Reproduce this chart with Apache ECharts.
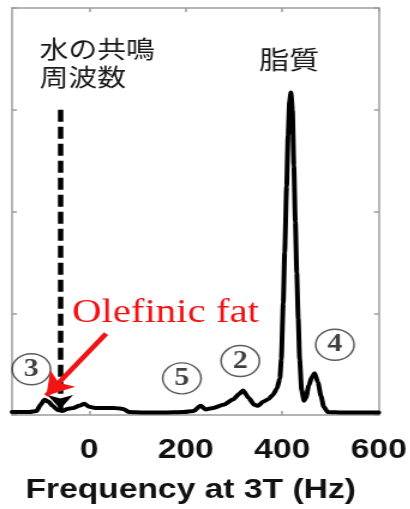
<!DOCTYPE html>
<html>
<head>
<meta charset="utf-8">
<script src="https://cdn.jsdelivr.net/npm/echarts@6/dist/echarts.min.js"></script>
<style>
  html, body { margin: 0; padding: 0; background: #fff; overflow: hidden; }
  #wrap { width: 410px; height: 509px; overflow: hidden; }
  /* the figure is laid out narrow and widened 1.2x, like the original print */
  #chart { width: 342px; height: 509px; transform: scaleX(1.2); transform-origin: 0 0; }
</style>
</head>
<body>
<div id="wrap"><div id="chart"></div></div>
<script>
// Spectrum at 3T: frequency offset (Hz) and signal amplitude (a.u.)
const freqHz = [-160, -144, -124, -109, -101, -93, -84, -76, -66, -56, -45, -33, -21, -10, 0, 12, 31, 51, 70, 82,
  113, 154, 196, 216, 231, 241, 257, 278, 299, 311, 319, 330, 342, 350, 360, 371, 381, 389, 395, 398,
  402, 405, 409, 412, 415, 418, 421, 424, 427, 430, 433, 436, 440, 445, 449, 455, 461, 467, 474, 480,
  486, 494, 525, 566, 600];
const signal = [0.03, 0.03, 0.03, 0.04, 0.10, 0.15, 0.13, 0.09, 0.05, 0.04, 0.06, 0.07, 0.09, 0.11, 0.08, 0.07, 0.07, 0.07, 0.06, 0.03,
  0.025, 0.025, 0.03, 0.04, 0.09, 0.055, 0.07, 0.10, 0.155, 0.21, 0.24, 0.17, 0.10, 0.09, 0.13, 0.155, 0.20, 0.26, 0.36, 0.55,
  1.10, 1.60, 2.25, 2.75, 3.08, 3.17, 3.00, 2.45, 1.90, 1.40, 0.95, 0.55, 0.25, 0.14, 0.17, 0.29, 0.37, 0.41, 0.32, 0.19,
  0.08, 0.03, 0.025, 0.025, 0.025];

// x axis ticks and labels
const tickHz = [0, 200, 400, 600];

// water resonance frequency marker
const waterHz = -60;
const waterTop = 3.0;
const waterTip = 0.06;

// olefinic fat pointer: tail and head
const oleTail = [35, 0.80];
const oleHead = [-89, 0.19];

// numbered peak markers
const peakNames = ['3', '5', '2', '4'];
const peakHz = [-120, 192, 313, 509];
const peakLevel = [0.45, 0.36, 0.53, 0.69];

const chart = echarts.init(document.getElementById('chart'), null, { renderer: 'canvas' });

const frame = { color: '#9c9c9c', width: 1.5 };

const option = {
  animation: false,
  backgroundColor: '#fff',
  grid: { left: 10, right: 24.5, top: 8, bottom: 89, containLabel: false },
  xAxis: [
    {
      type: 'value', min: -160, max: 600, position: 'bottom',
      axisLine: { show: true, onZero: false, lineStyle: frame },
      axisTick: { show: true, inside: true, length: 4, customValues: tickHz, lineStyle: frame },
      axisLabel: {
        show: true, customValues: tickHz, margin: 21, color: '#111',
        fontSize: 28, fontWeight: 'bold', fontFamily: 'Liberation Sans, Arial, sans-serif'
      },
      splitLine: { show: false },
      name: 'Frequency at 3T (Hz)', nameLocation: 'middle', nameGap: 61,
      nameTextStyle: {
        color: '#111', fontSize: 28, fontWeight: 'bold',
        fontFamily: 'Liberation Sans, Arial, sans-serif', padding: [0, 8, 0, 0]
      }
    },
    {
      type: 'value', min: -160, max: 600, position: 'top',
      axisLine: { show: true, onZero: false, lineStyle: frame },
      axisTick: { show: true, inside: true, length: 4, customValues: tickHz, lineStyle: frame },
      axisLabel: { show: false },
      splitLine: { show: false }
    }
  ],
  yAxis: [
    {
      type: 'value', min: 0, max: 4, interval: 1, position: 'left',
      axisLine: { show: true, onZero: false, lineStyle: frame },
      axisTick: { show: true, inside: true, length: 4, lineStyle: frame },
      axisLabel: { show: false },
      splitLine: { show: false }
    },
    {
      type: 'value', min: 0, max: 4, interval: 1, position: 'right',
      axisLine: { show: true, onZero: false, lineStyle: frame },
      axisTick: { show: true, inside: true, length: 4, lineStyle: frame },
      axisLabel: { show: false },
      splitLine: { show: false }
    }
  ],
  series: [
    {
      type: 'line',
      xAxisIndex: 0, yAxisIndex: 0,
      data: freqHz.map((f, i) => [f, signal[i]]),
      showSymbol: false,
      smooth: 0.2,
      smoothMonotone: 'x',
      lineStyle: { color: '#000', width: 4, join: 'round', cap: 'round' },
      z: 3,
      markLine: {
        silent: true,
        animation: false,
        label: { show: false },
        data: [
          [
            { coord: [waterHz, waterTop], symbol: 'none',
              lineStyle: { color: '#000', width: 4.5, type: [12, 5] } },
            { coord: [waterHz, waterTip], symbol: 'arrow', symbolSize: [16, 14] }
          ],
          [
            { coord: oleTail, symbol: 'none',
              lineStyle: { color: '#f01414', width: 4.5, type: 'solid' } },
            { coord: oleHead, symbol: 'arrow', symbolSize: [20, 22] }
          ]
        ]
      }
    },
    {
      type: 'scatter',
      xAxisIndex: 0, yAxisIndex: 0,
      data: peakNames.map((n, i) => ({ name: n, value: [peakHz[i], peakLevel[i]] })),
      symbol: 'circle',
      symbolSize: [32, 31],
      itemStyle: { color: 'rgba(255,255,255,0)', borderColor: '#333', borderWidth: 1.5 },
      label: {
        show: true, position: 'inside', formatter: '{b}', color: '#111',
        fontSize: 25, fontWeight: 'bold', fontFamily: 'Liberation Serif, Times New Roman, serif'
      },
      silent: true,
      z: 4
    }
  ],
  graphic: [
    {
      type: 'text', left: 33, top: 35,
      style: {
        text: '水の共鳴\n周波数', fill: '#1a1a1a', fontSize: 24, lineHeight: 28,
        fontFamily: 'Noto Sans CJK JP, sans-serif'
      },
      z: 10
    },
    {
      type: 'text', left: 216, top: 47,
      style: {
        text: '脂質', fill: '#1a1a1a', fontSize: 25,
        fontFamily: 'Noto Sans CJK JP, sans-serif'
      },
      z: 10
    },
    {
      type: 'text', left: 60, top: 296,
      style: {
        text: 'Olefinic fat', fill: '#f01414', fontSize: 34,
        fontFamily: 'Liberation Serif, Times New Roman, serif'
      },
      z: 10
    }
  ]
};

chart.setOption(option);
</script>
</body>
</html>
